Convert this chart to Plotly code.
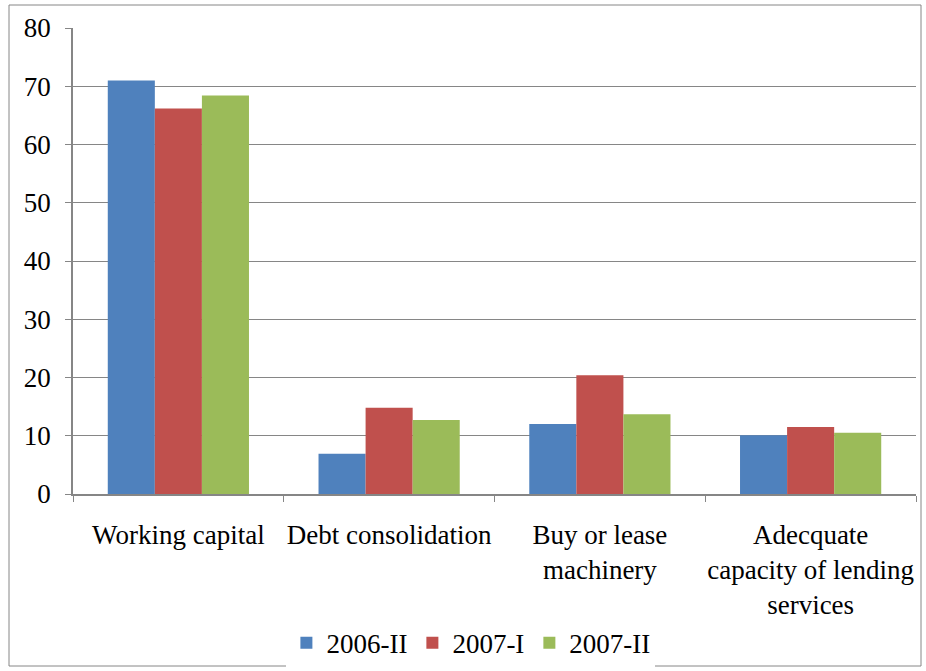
import plotly.graph_objects as go

categories = ["Working capital", "Debt consolidation", "Buy or lease<br>machinery",
              "Adecquate<br>capacity of lending<br>services"]
series_names = ["2006-II", "2007-I", "2007-II"]
s2006_II = [71.0, 6.9, 12.0, 10.1]
s2007_I = [66.2, 14.8, 20.4, 11.5]
s2007_II = [68.4, 12.7, 13.7, 10.5]
colors = ["#4F81BD", "#C0504D", "#9BBB59"]
y_ticks = [0, 10, 20, 30, 40, 50, 60, 70, 80]

W, H = 926, 671
L, R, T, B = 73, 10, 28, 177
pw, ph = W - L - R, H - T - B

fig = go.Figure()
for name, vals, c in zip(series_names, [s2006_II, s2007_I, s2007_II], colors):
    fig.add_trace(go.Bar(x=categories, y=vals, name=name, marker_color=c,
                         marker_line_width=0))

FAM = "Liberation Serif"
SZ = 27
font = dict(family=FAM, size=SZ, color="black")
fig.update_layout(
    width=W, height=H,
    margin=dict(l=L, r=R, t=T, b=B, autoexpand=False),
    paper_bgcolor="white", plot_bgcolor="white",
    barmode="group", bargap=0.33, bargroupgap=0,
    font=font,
    legend=dict(orientation="h", x=0.472, xanchor="center", y=-0.32, yanchor="middle",
                font=font, traceorder="normal"),
    xaxis=dict(showline=True, linecolor="#868686", linewidth=1.5, ticks="outside",
               tickson="boundaries", ticklen=6, tickcolor="#868686", automargin=False,
               tickangle=0,
               ticklabelstandoff=16, tickfont=dict(family=FAM, size=SZ, color="black")),
    yaxis=dict(range=[0, 80], tickvals=y_ticks, showline=True, linecolor="#868686",
               linewidth=1.5, ticks="outside", ticklen=6, tickcolor="#868686",
               showgrid=True, gridcolor="#868686", gridwidth=1, zeroline=False,
               automargin=False, ticklabelstandoff=9,
               tickfont=dict(family=FAM, size=SZ, color="black")),
    shapes=[dict(type="rect", xref="paper", yref="paper",
                 x0=(9 - L) / pw, x1=(921 - L) / pw,
                 y0=-(666 - T - ph) / ph, y1=1 + (T - 5) / ph,
                 line=dict(color="#868686", width=1), layer="below")],
)
fig.write_html("out.html")
